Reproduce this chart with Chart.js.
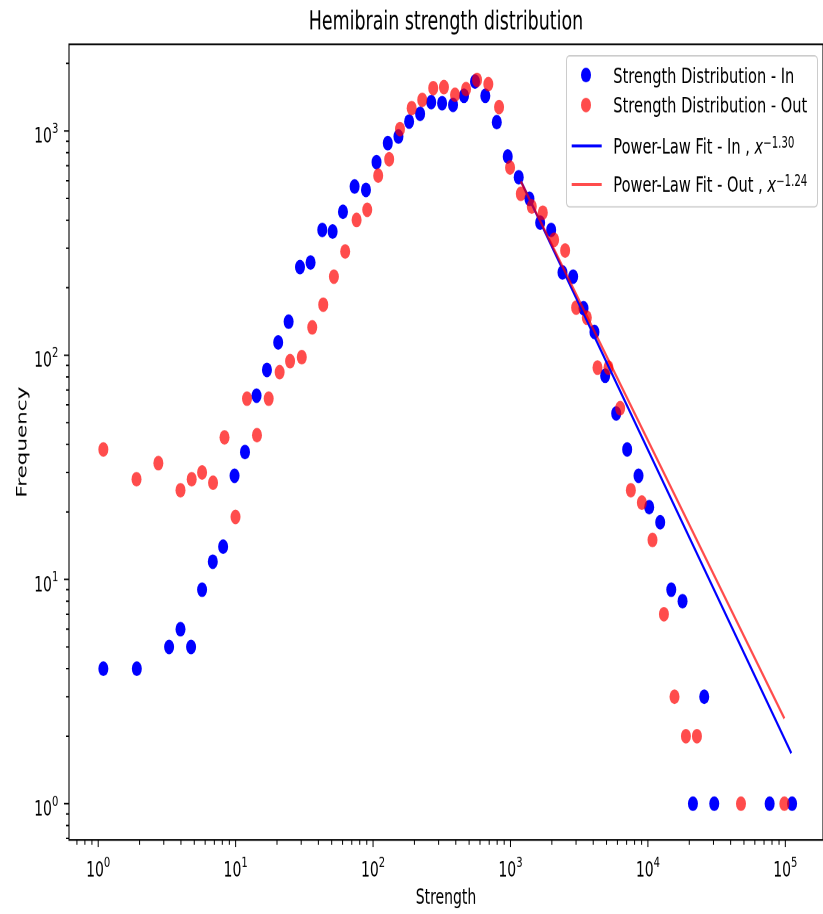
<!DOCTYPE html>
<html>
<head>
<meta charset="utf-8">
<title>Hemibrain strength distribution</title>
<script src="https://cdn.jsdelivr.net/npm/chart.js@4.4.1/dist/chart.umd.min.js"></script>
<style>
  html, body { margin: 0; padding: 0; background: #fff; width: 823px; height: 914px; overflow: hidden; }
  #page { position: relative; width: 823px; height: 914px; overflow: hidden; }
  /* the figure is drawn squeezed and stretched back vertically, like the original image */
  #wrap { position: absolute; left: 0; top: 0; width: 823px; height: 622px; transform: scaleY(1.4695); transform-origin: 0 0; }
</style>
</head>
<body>
<div id="page"><div id="wrap"><canvas id="chart"></canvas></div></div>
<script>
// log-binned strength histograms
const inStrength = [1.09, 1.91, 3.28, 3.97, 4.74, 5.70, 6.82, 8.11, 9.82, 11.7, 14.2, 16.9, 20.4, 24.3,
  29.4, 35.1, 42.7, 50.8, 60.4, 73.4, 88.8, 106, 128, 153, 183, 220, 265, 318, 382, 459, 552, 656,
  795, 955, 1148, 1374, 1644, 1977, 2390, 2858, 3400, 4084, 4886, 5879, 7066, 8545, 10220, 12290,
  14790, 17870, 21270, 25700, 30400, 76900, 112000];
const inFreq = [4, 4, 5, 6, 5, 9, 12, 14, 29, 37, 66, 86, 114, 141,
  247, 259, 362, 356, 436, 565, 546, 726, 882, 944, 1101, 1192, 1344, 1330, 1307, 1435, 1660, 1435,
  1094, 769, 622, 498, 390, 362, 234, 224, 162, 127, 81, 55, 38, 29, 21, 18,
  9, 8, 1, 3, 1, 1, 1];

const outStrength = [1.09, 1.90, 2.74, 3.97, 4.79, 5.70, 6.85, 8.30, 9.98, 12.1, 14.3, 17.4, 20.9, 24.9,
  30.3, 36.1, 43.4, 51.9, 62.7, 75.9, 90.7, 109, 131, 157, 191, 228, 274, 328, 395, 475, 571, 690,
  826, 993, 1189, 1429, 1719, 2078, 2499, 3005, 3594, 4297, 5166, 6282, 7516, 9036, 10800, 13080,
  15620, 18910, 22740, 47570, 98400];
const outFreq = [38, 28, 33, 25, 28, 30, 27, 43, 19, 64, 44, 64, 84, 94,
  98, 133, 168, 224, 290, 401, 445, 632, 748, 1019, 1264, 1376, 1552, 1568, 1449, 1536, 1690, 1617,
  1277, 687, 524, 460, 432, 327, 293, 163, 147, 88, 88, 58, 25, 22, 15, 7,
  3, 2, 2, 1, 1];

// power-law fits: the two end points of each fitted line
const fitInX = [1189, 110600];
const fitInY = [599, 1.68];
const fitOutX = [1189, 98400];
const fitOutY = [595, 2.40];

// decade labels (10^n)
const xTickExps = [0, 1, 2, 3, 4, 5];
const yTickExps = [0, 1, 2, 3];

const legendLabels = ['Strength Distribution - In', 'Strength Distribution - Out',
  'Power-Law Fit - In , ', 'Power-Law Fit - Out , '];
const fitExponents = ['\u22121.30', '\u22121.24'];

const FONT = '"DejaVu Sans", sans-serif';
const BLUE = '#0000ff';
const RED = 'rgba(255,0,0,0.7)';

function toPoints(xs, ys) {
    return xs.map((x, i) => ({ x: x, y: ys[i] }));
}

// keep only 1..9 x 10^n ticks (drop chart.js 15-ticks and the min/max ones)
function keepLogTicks(scale) {
    scale.ticks = scale.ticks.filter(t => {
        const e = Math.floor(Math.log10(t.value) + 1e-9);
        const m = t.value / Math.pow(10, e);
        return Math.abs(m - Math.round(m)) < 1e-6 && Math.round(m) < 10;
    });
}

function isDecade(v) {
    const e = Math.round(Math.log10(v));
    return Math.abs(v / Math.pow(10, e) - 1) < 1e-6;
}

// "10" with a raised exponent
function powerLabel(ctx, exp, x, y, align) {
    ctx.font = '14px ' + FONT;
    const wb = ctx.measureText('10').width;
    ctx.font = '10px ' + FONT;
    const we = ctx.measureText(String(exp)).width;
    const left = align === 'center' ? x - (wb + we) / 2 : x - wb - we;
    ctx.textAlign = 'left';
    ctx.textBaseline = 'alphabetic';
    ctx.font = '14px ' + FONT;
    ctx.fillText('10', left, y);
    ctx.font = '10px ' + FONT;
    ctx.fillText(String(exp), left + wb, y - 6.6);
}

function roundBox(ctx, x, y, w, h, r) {
    ctx.beginPath();
    ctx.moveTo(x + r, y);
    ctx.lineTo(x + w - r, y);
    ctx.arcTo(x + w, y, x + w, y + r, r);
    ctx.lineTo(x + w, y + h - r);
    ctx.arcTo(x + w, y + h, x + w - r, y + h, r);
    ctx.lineTo(x + r, y + h);
    ctx.arcTo(x, y + h, x, y + h - r, r);
    ctx.lineTo(x, y + r);
    ctx.arcTo(x, y, x + r, y, r);
    ctx.closePath();
}

function drawLegend(ctx, area) {
    const bx = area.right - 257, by = area.top + 7.3, bw = 251, bh = 102.8;
    roundBox(ctx, bx + 0.5, by + 0.5, bw, bh, 3);
    ctx.fillStyle = 'rgba(255,255,255,0.8)';
    ctx.fill();
    ctx.strokeStyle = '#cccccc';
    ctx.lineWidth = 1;
    ctx.stroke();

    const rows = [13.6, 34, 61.8, 88];
    const colors = [BLUE, RED, BLUE, RED];
    const textX = bx + 47.3;
    rows.forEach((dy, i) => {
        const cy = by + dy;
        if (i < 2) {
            ctx.fillStyle = colors[i];
            ctx.beginPath();
            ctx.arc(bx + 20, cy, 5, 0, Math.PI * 2);
            ctx.fill();
        } else {
            ctx.strokeStyle = colors[i];
            ctx.lineWidth = 2;
            ctx.beginPath();
            ctx.moveTo(bx + 5.7, cy);
            ctx.lineTo(bx + 35.7, cy);
            ctx.stroke();
        }
        const base = cy + 5.3;
        ctx.fillStyle = '#000';
        ctx.textAlign = 'left';
        ctx.textBaseline = 'alphabetic';
        ctx.font = '14.6px ' + FONT;
        ctx.fillText(legendLabels[i], textX, base);
        if (i >= 2) {
            let x = textX + ctx.measureText(legendLabels[i]).width;
            ctx.font = 'italic 14.6px ' + FONT;
            ctx.fillText('x', x, base);
            x += ctx.measureText('x').width;
            ctx.font = '10.2px ' + FONT;
            ctx.fillText(fitExponents[i - 2], x, base - 4);
        }
    });
}

const decor = {
    id: 'decor',
    afterDraw(chart) {
        const ctx = chart.ctx;
        const a = chart.chartArea;
        const sx = chart.scales.x, sy = chart.scales.y;
        ctx.save();

        // frame
        ctx.strokeStyle = '#000';
        ctx.lineWidth = 1.1;
        ctx.strokeRect(a.left, a.top, a.right - a.left, a.bottom - a.top);

        // tick marks
        ctx.lineWidth = 1;
        ctx.beginPath();
        sx.ticks.forEach(t => {
            const px = sx.getPixelForValue(t.value);
            if (px < a.left || px > a.right) return;
            const len = isDecade(t.value) ? 4.9 : 3.3;
            ctx.moveTo(px, a.bottom);
            ctx.lineTo(px, a.bottom + len);
        });
        sy.ticks.forEach(t => {
            const py = sy.getPixelForValue(t.value);
            if (py < a.top || py > a.bottom) return;
            const len = isDecade(t.value) ? 5 : 3;
            ctx.moveTo(a.left - len, py);
            ctx.lineTo(a.left, py);
        });
        ctx.stroke();

        // decade labels
        ctx.fillStyle = '#000';
        xTickExps.forEach(e => {
            const px = sx.getPixelForValue(Math.pow(10, e));
            powerLabel(ctx, e, px, a.bottom + 25, 'center');
        });
        yTickExps.forEach(e => {
            const py = sy.getPixelForValue(Math.pow(10, e));
            powerLabel(ctx, e, a.left - 10.7, py + 8, 'right');
        });

        // axis titles
        ctx.fillStyle = '#000';
        ctx.font = '14px ' + FONT;
        ctx.textAlign = 'center';
        ctx.textBaseline = 'alphabetic';
        ctx.fillText('Strength', (a.left + a.right) / 2, a.bottom + 43.5);
        ctx.save();
        ctx.translate(26.5, (a.top + a.bottom) / 2);
        ctx.rotate(-Math.PI / 2);
        ctx.font = '14.6px ' + FONT;
        ctx.fillText('Frequency', 0, 0);
        ctx.restore();

        drawLegend(ctx, a);
        ctx.restore();
    }
};

new Chart(document.getElementById('chart'), {
    type: 'scatter',
    data: {
        datasets: [
            {
                label: legendLabels[0],
                data: toPoints(inStrength, inFreq),
                backgroundColor: BLUE,
                borderColor: BLUE,
                pointRadius: 5,
                pointBorderWidth: 0,
                order: 4
            },
            {
                label: legendLabels[1],
                data: toPoints(outStrength, outFreq),
                backgroundColor: RED,
                borderColor: RED,
                pointRadius: 5,
                pointBorderWidth: 0,
                order: 3
            },
            {
                label: legendLabels[2],
                data: toPoints(fitInX, fitInY),
                showLine: true,
                borderColor: BLUE,
                backgroundColor: BLUE,
                borderWidth: 2,
                pointRadius: 0,
                order: 2
            },
            {
                label: legendLabels[3],
                data: toPoints(fitOutX, fitOutY),
                showLine: true,
                borderColor: RED,
                backgroundColor: RED,
                borderWidth: 2,
                pointRadius: 0,
                order: 1
            }
        ]
    },
    options: {
        responsive: true,
        maintainAspectRatio: false,
        animation: false,
        devicePixelRatio: 2,
        events: [],
        layout: { autoPadding: false, padding: { left: 69, right: 0, top: 0, bottom: 0 } },
        plugins: {
            legend: { display: false },
            tooltip: { enabled: false },
            title: {
                display: true,
                text: 'Hemibrain strength distribution',
                color: '#000',
                font: { family: FONT, size: 17.45, weight: 'normal', lineHeight: 1.2 },
                padding: { top: 5, bottom: 4.2 }
            }
        },
        scales: {
            x: {
                type: 'logarithmic',
                min: 0.613,
                max: 188000,
                bounds: 'data',
                ticks: { display: false },
                grid: { display: false },
                border: { display: false },
                afterBuildTicks: keepLogTicks,
                afterFit: s => { s.height = 50.4; }
            },
            y: {
                type: 'logarithmic',
                min: 0.689,
                max: 2434,
                bounds: 'data',
                ticks: { display: false },
                grid: { display: false },
                border: { display: false },
                afterBuildTicks: keepLogTicks,
                afterFit: s => { s.width = 0; }
            }
        }
    },
    plugins: [decor]
});
</script>
</body>
</html>
